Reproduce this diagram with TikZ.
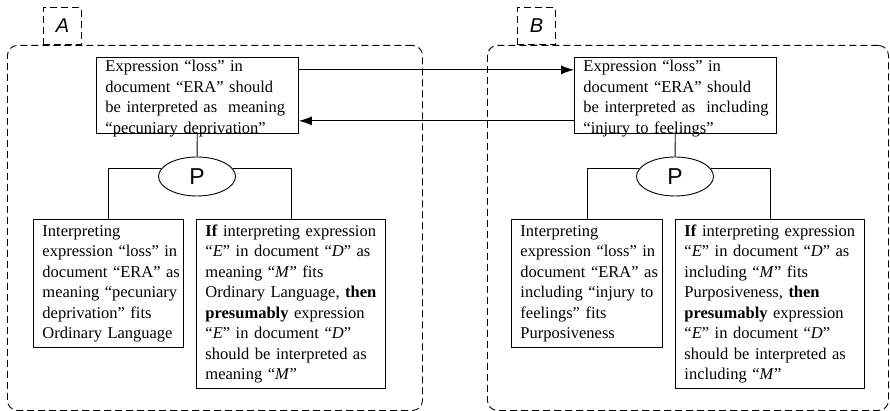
\documentclass[tikz,border=0pt]{standalone}
\usepackage{fontspec}
\setmainfont{Liberation Serif}
\newfontfamily\tagfont{Liberation Sans}
\usetikzlibrary{positioning, shapes.geometric, arrows.meta}
\newcommand{\claimlines}[1]{\begin{tabular}[b]{@{}l@{}}#1\end{tabular}}

\begin{document}
\begin{tikzpicture}[x=1pt, y=-1pt, line width=0.9pt,
      region/.style={draw, dash pattern=on 7pt off 4pt, rounded corners=10pt,
        anchor=north west, inner sep=0pt},
      tag/.style={draw, dash pattern=on 7pt off 4pt, anchor=south west,
        minimum width=38pt, minimum height=37pt, inner sep=0pt,
        font=\tagfont\itshape\fontsize{20}{20}\selectfont},
      claim/.style={draw, rectangle, anchor=north west, align=left,
        inner xsep=9pt, inner ysep=2.5pt, font=\fontsize{16.5}{20.5}\selectfont},
      issue/.style={claim, text width=184pt, inner ysep=0pt, text depth=0pt},
      prop/.style={draw, ellipse, minimum width=77pt, minimum height=39pt,
        inner sep=0pt, font=\tagfont\fontsize{23}{23}\selectfont},
      conflict/.style={-{Latex[length=13pt,width=9pt]}}]
      \useasboundingbox (0,0) rectangle (890,411);
      % argument A
      \node[region, minimum width=415pt, minimum height=365pt] (reg_A) at (7,45) {};
      \node[tag] (tag_A) at ([xshift=36pt]reg_A.north west) {A};
      \node[issue] (top_A) at (96,57)
        {\claimlines{Expression “loss” in\\ document “ERA” should\\ be interpreted as\ \ meaning\\ “pecuniary deprivation”}};
      \node[prop] (p_A) at (197,176.5) {P};
      \draw (top_A) -- (p_A);
      \node[claim, text width=132pt] (left_A) at (33,219)
        {\claimlines{Interpreting\\ expression “loss” in\\ document “ERA” as\\ meaning “pecuniary\\ deprivation” fits\\ Ordinary Language}};
      \node[claim, text width=171pt] (right_A) at (196,219)
        {\claimlines{\textbf{If} interpreting expression\\ “\textit{E}” in document “\textit{D}” as\\ meaning “\textit{M}” fits\\ Ordinary Language, \textbf{then}\\ \textbf{presumably} expression\\ “\textit{E}” in document “\textit{D}”\\ should be interpreted as\\ meaning “\textit{M}”}};
      \draw (p_A.168) -| (left_A.north);
      \draw (p_A.12) -| (right_A.north);
      % argument B
      \node[region, minimum width=401pt, minimum height=365pt] (reg_B) at (487,45) {};
      \node[tag] (tag_B) at ([xshift=30pt]reg_B.north west) {B};
      \node[issue] (top_B) at (574,57)
        {\claimlines{Expression “loss” in\\ document “ERA” should\\ be interpreted as\ \ including\\ “injury to feelings”}};
      \node[prop] (p_B) at (675,176.5) {P};
      \draw (top_B) -- (p_B);
      \node[claim, text width=133pt] (left_B) at (511,219)
        {\claimlines{Interpreting\\ expression “loss” in\\ document “ERA” as\\ including “injury to\\ feelings” fits\\ Purposiveness}};
      \node[claim, text width=171pt] (right_B) at (675,219)
        {\claimlines{\textbf{If} interpreting expression\\ “\textit{E}” in document “\textit{D}” as\\ including “\textit{M}” fits\\ Purposiveness, \textbf{then}\\ \textbf{presumably} expression\\ “\textit{E}” in document “\textit{D}”\\ should be interpreted as\\ including “\textit{M}”}};
      \draw (p_B.168) -| (left_B.north);
      \draw (p_B.12) -| (right_B.north);
      % attacks
      \draw[conflict] ([yshift=25.5pt]top_A.east) -- ([yshift=25.5pt]top_B.west);
      \draw[conflict] ([yshift=-25.5pt]top_B.west) -- ([yshift=-25.5pt]top_A.east);
  \end{tikzpicture}
\end{document}
